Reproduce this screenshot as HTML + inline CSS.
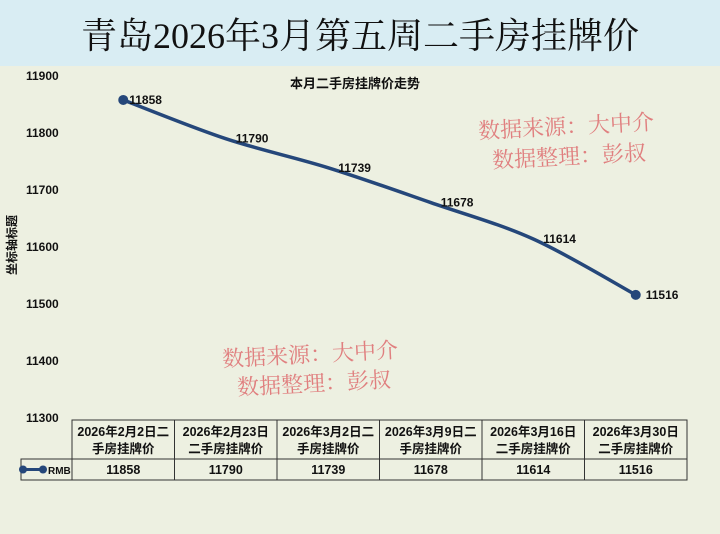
<!DOCTYPE html>
<html><head><meta charset="utf-8"><style>
body{margin:0;width:720px;height:534px;overflow:hidden;background:#edf0e1;font-family:"Liberation Sans","Noto Sans CJK SC",sans-serif;}
#title{position:absolute;left:0;top:0;width:720px;height:66px;background:#d9edf3;text-align:center;line-height:72px;font-family:"Liberation Serif","Noto Serif CJK SC",serif;font-size:36px;color:#111;}
.wm{position:absolute;color:#e07f7f;font-family:"Noto Serif CJK SC",serif;font-size:22px;transform:rotate(-3deg);white-space:nowrap;}
svg text{font-weight:600;}
</style></head><body>
<div id="title">青岛2026年3月第五周二手房挂牌价</div>
<svg id="chart" width="720" height="534" style="position:absolute;left:0;top:0"></svg>
<div class="wm" style="left:478px;top:110px">数据来源：大中介</div>
<div class="wm" style="left:492px;top:140px">数据整理：彭叔</div>
<div class="wm" style="left:222px;top:338px">数据来源：大中介</div>
<div class="wm" style="left:237px;top:367px">数据整理：彭叔</div>
<script>
const categories=["2026年2月2日二|手房挂牌价","2026年2月23日|二手房挂牌价","2026年3月2日二|手房挂牌价","2026年3月9日二|手房挂牌价","2026年3月16日|二手房挂牌价","2026年3月30日|二手房挂牌价"];
const values=[11858,11790,11739,11678,11614,11516];
const yTicks=[11300,11400,11500,11600,11700,11800,11900];
const NS="http://www.w3.org/2000/svg";
const svg=document.getElementById('chart');
const tL=72,colW=102.5,yMin=11300,yMax=11900,yTop=76,yBot=418;
const x=i=>tL+colW*(i+0.5);
const y=v=>yBot-(v-yMin)/(yMax-yMin)*(yBot-yTop);
function mk(t,a,txt){const e=document.createElementNS(NS,t);for(const k in a)e.setAttribute(k,a[k]);if(txt!=null)e.textContent=txt;svg.appendChild(e);return e;}
let e=mk('text',{x:355,y:88,'text-anchor':'middle','font-size':13,fill:'#111'},'本月二手房挂牌价走势');


e=mk('text',{x:16,y:245,'text-anchor':'middle','font-size':12,fill:'#111',transform:'rotate(-90 16 245)'},'坐标轴标题');


yTicks.forEach(t=>{const el=mk('text',{x:26,y:y(t)+4,'font-size':12,fill:'#111'},t);

});
const P=values.map((v,i)=>[x(i),y(v)]);
let d='M'+P[0][0]+','+P[0][1];
for(let i=0;i<P.length-1;i++){const p0=P[Math.max(0,i-1)],p1=P[i],p2=P[i+1],p3=P[Math.min(P.length-1,i+2)];
const c1=[p1[0]+(p2[0]-p0[0])/6,p1[1]+(p2[1]-p0[1])/6],c2=[p2[0]-(p3[0]-p1[0])/6,p2[1]-(p3[1]-p1[1])/6];
d+=` C${c1[0]},${c1[1]} ${c2[0]},${c2[1]} ${p2[0]},${p2[1]}`;}
e=mk('path',{d:d,fill:'none',stroke:'#25477a','stroke-width':3.5});


values.forEach((v,i)=>{
 const last=i==values.length-1;
 if(i==0||last){const c=mk('circle',{cx:x(i),cy:y(v),r:5,fill:'#25477a'});
 
 }
 const lx=i==0?x(i)+6:(last?x(i)+10:x(i)+10), ly=y(v)+4;
 const t=mk('text',{x:lx,y:ly,'font-size':12,fill:'#111'},v);
 
 
});
const gT=420,gM=459,gB=480,lx0=21;
e=mk('rect',{x:tL,y:gT,width:colW*6,height:gB-gT,fill:'none',stroke:'#333','stroke-width':1});


mk('rect',{x:lx0,y:gM,width:tL-lx0,height:gB-gM,fill:'none',stroke:'#333'});
mk('line',{x1:tL,y1:gM,x2:tL+colW*6,y2:gM,stroke:'#333'});
for(let i=1;i<6;i++)mk('line',{x1:tL+colW*i,y1:gT,x2:tL+colW*i,y2:gB,stroke:'#333'});
categories.forEach((c,i)=>{const [a,b]=c.split('|');
 const t1=mk('text',{x:x(i),y:gT+16,'text-anchor':'middle','font-size':12.5,fill:'#111'},a);
 
 
 mk('text',{x:x(i),y:gT+33,'text-anchor':'middle','font-size':12.5,fill:'#111'},b);
 const t2=mk('text',{x:x(i),y:gM+15,'text-anchor':'middle','font-size':12.5,fill:'#111'},values[i]);
 
 
});
mk('line',{x1:22,y1:469.5,x2:44,y2:469.5,stroke:'#25477a','stroke-width':3});
mk('circle',{cx:23,cy:469.5,r:4,fill:'#25477a'});
mk('circle',{cx:43,cy:469.5,r:4,fill:'#25477a'});
e=mk('text',{x:48,y:474,'font-size':10,fill:'#111'},'RMB');


</script>
</body></html>
